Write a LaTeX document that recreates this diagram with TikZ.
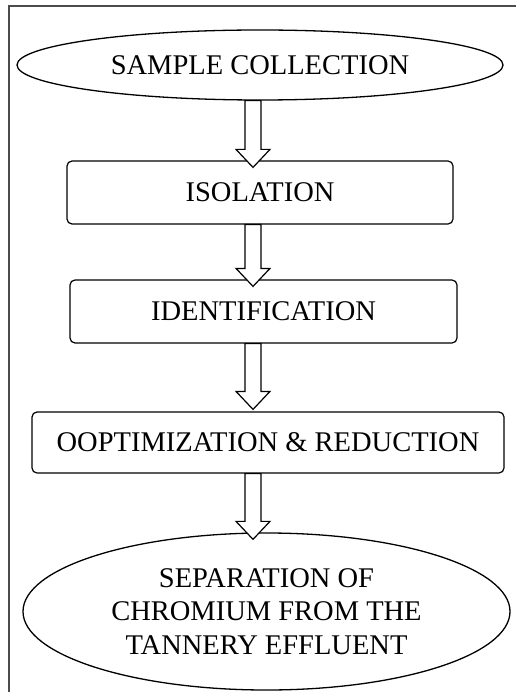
\documentclass[tikz,border=0pt]{standalone}
\usepackage{fontspec}
\setmainfont{Liberation Serif}
\usepackage{tikz}
\usetikzlibrary{shapes.geometric}
\usetikzlibrary{calc}

\tikzset{
	stepnode/.style={draw, rounded corners=5pt, line width=1.2pt, inner sep=0pt},
	endnode/.style={draw, ellipse, line width=1.3pt, inner sep=0pt, align=center},
	blockarrow/.style={draw, fill=white, line width=1.2pt, to path={
		let \p1=(\tikztostart), \p2=(\tikztotarget) in
		(\x1-8pt,\y1) -- (\x1-8pt,\y2+18pt) -- (\x1-17pt,\y2+18pt) -- (\x2,\y2)
		-- (\x1+17pt,\y2+18pt) -- (\x1+8pt,\y2+18pt) -- (\x1+8pt,\y1) -- cycle}}
}

\begin{document}
\begin{tikzpicture}[x=1pt, y=-1pt, font=\fontsize{28.5}{33.5}\selectfont]
	\useasboundingbox (0,0) rectangle (516,692);
	\draw[line width=1.5pt, black!70] (9,692) -- (9,6) -- (516,6);

	\node[endnode, minimum width=486pt, minimum height=70pt] (sample) at (260,65) {SAMPLE COLLECTION};
	\node[stepnode, minimum width=386pt, minimum height=63pt] (isolation) at (260,192.5) {ISOLATION};
	\node[stepnode, minimum width=387pt, minimum height=63pt] (identification) at (263.5,311.5) {IDENTIFICATION};
	\node[stepnode, minimum width=472pt, minimum height=61pt] (optimization) at (268,442.5) {OOPTIMIZATION \& REDUCTION};
	\node[endnode, minimum width=487pt, minimum height=157pt] (separation) at (266.5,611.5) {SEPARATION OF\\CHROMIUM FROM THE\\TANNERY EFFLUENT};

	\coordinate (axis) at (253,0);
	\draw[blockarrow] (sample.south -| axis) to ([yshift=-7pt]isolation.north -| axis);
	\draw[blockarrow] (isolation.south -| axis) to ([yshift=-7pt]identification.north -| axis);
	\draw[blockarrow] (identification.south -| axis) to ([yshift=2pt]optimization.north -| axis);
	\draw[blockarrow] (optimization.south -| axis) to ([yshift=-7pt]separation.north -| axis);
\end{tikzpicture}
\end{document}
